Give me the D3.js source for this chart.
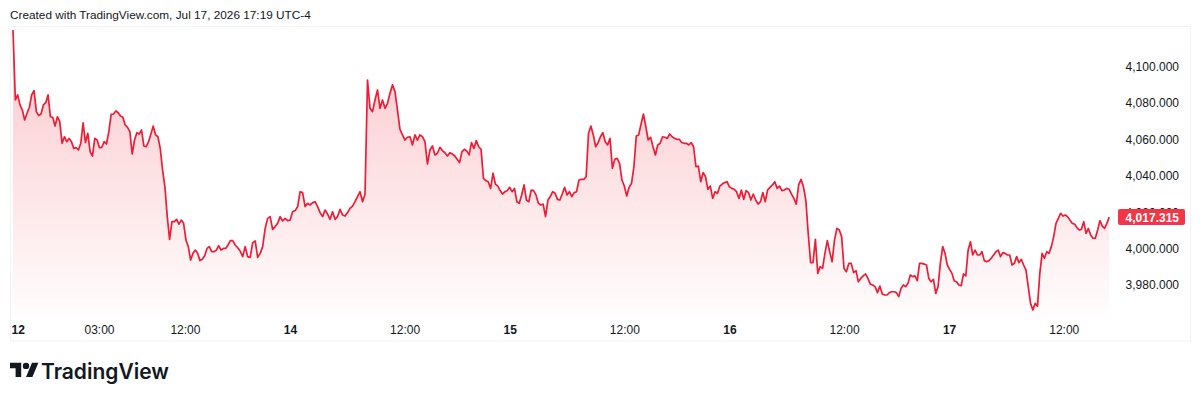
<!DOCTYPE html>
<head>
<meta charset="utf-8">
<script src="https://d3js.org/d3.v7.min.js"></script>
<style>
body { margin: 0; background: #fff; }
text { font-family: "Liberation Sans", Arial, sans-serif; fill: #131722; }
</style>
</head>
<body>
<script>
// 15-min closes, one array per trading session (18:00 -> 17:00 ET, 23h)
var session1 = [4120.2, 4081.7, 4084.5, 4079.0, 4076.2, 4070.7, 4074.4, 4077.7, 4084.5, 4086.8,
  4075.3, 4073.1, 4074.0, 4079.0, 4080.2, 4084.5, 4072.5, 4072.2, 4067.4, 4072.5,
  4069.8, 4057.9, 4061.5, 4058.8, 4060.6, 4058.8, 4055.1, 4055.5, 4054.2, 4057.9,
  4069.2, 4058.3, 4063.4, 4053.3, 4050.9, 4060.6, 4059.7, 4055.5, 4055.7, 4058.8,
  4057.5, 4064.3, 4073.8, 4074.0, 4075.7, 4074.7, 4072.9, 4072.2, 4068.0, 4066.7,
  4064.3, 4052.0, 4059.7, 4063.7, 4063.0, 4065.2, 4056.4, 4056.0, 4058.8, 4063.0,
  4067.4, 4062.5, 4061.5, 4055.1, 4043.2, 4034.0, 4017.6, 4005.1, 4014.8, 4014.8,
  4016.1, 4013.5, 4015.7, 4013.9, 4004.7, 4001.1, 3993.7, 3997.4, 3999.2, 3997.4,
  3993.4, 3994.1, 3996.1, 4000.1, 4001.1, 3998.3, 3998.3, 3999.2, 4001.6, 3999.2,
  4000.1, 4000.1, 4002.0, 4004.4];
var session2 = [4004.4, 4002.0, 4000.5, 3998.7, 3995.6, 4001.1, 3995.6, 3995.2, 4003.3, 4004.2,
  3995.2, 3997.4, 4001.1, 4011.1, 4016.6, 4017.6, 4010.6, 4012.1, 4013.9, 4017.6,
  4015.2, 4016.6, 4015.4, 4015.7, 4020.3, 4020.9, 4023.0,
  4031.3, 4030.8, 4023.1, 4024.9, 4024.0, 4025.3, 4025.8, 4023.1, 4019.8, 4017.6,
  4021.2, 4019.0, 4016.1, 4020.3, 4016.1, 4017.6, 4021.6, 4018.5, 4017.9, 4019.8,
  4022.1, 4023.4, 4025.8, 4028.6, 4031.3, 4025.8, 4030.0, 4092.7, 4077.1, 4075.3,
  4081.7, 4087.2, 4077.1, 4081.7, 4077.1, 4079.9, 4085.4, 4090.0, 4086.3, 4076.2,
  4065.6, 4062.5, 4059.7, 4061.2, 4061.5, 4057.0, 4062.5, 4059.7, 4062.5, 4061.5,
  4058.8, 4046.5, 4054.2, 4056.4, 4051.5, 4052.4, 4055.7, 4053.9, 4052.7, 4050.9,
  4052.7];
var session3 = [4052.0, 4050.9, 4049.1, 4047.3, 4053.3, 4054.6, 4053.7, 4051.5, 4058.3, 4055.1,
  4059.4, 4056.0, 4054.6, 4038.6, 4037.4, 4036.8, 4033.1, 4041.4, 4035.5, 4034.4,
  4031.9, 4030.0, 4031.3, 4031.9, 4033.7, 4031.3, 4033.1, 4025.8, 4024.9, 4029.5,
  4035.0, 4026.7, 4025.8, 4032.2, 4031.9, 4029.5, 4024.9, 4024.0, 4024.5, 4017.6,
  4026.7, 4028.6, 4031.3, 4030.4, 4027.1, 4026.7, 4030.0, 4033.7, 4029.5, 4031.3,
  4028.6, 4030.8, 4031.3, 4037.7, 4038.1, 4038.1, 4039.5, 4063.4, 4067.4, 4062.5,
  4056.0, 4058.3,
  4061.5, 4063.7, 4058.8, 4057.0, 4060.6, 4044.1, 4049.1, 4049.6, 4046.9,
  4037.7, 4034.4, 4028.9, 4033.7, 4035.9, 4045.0, 4061.9, 4062.5, 4068.5, 4074.0,
  4067.0, 4059.7, 4061.2, 4056.0, 4051.5, 4057.0, 4057.9, 4061.5, 4061.2, 4060.6, 4063.0];
var session4 = [4061.5, 4060.6, 4060.1, 4060.1, 4058.3, 4057.9, 4057.9, 4057.0, 4058.3, 4056.0,
  4045.0, 4045.4, 4036.8, 4041.8, 4039.5, 4032.6, 4034.4, 4027.6, 4031.3, 4030.4,
  4034.4, 4035.5, 4036.3, 4036.8, 4034.0, 4033.1, 4032.6, 4031.3, 4027.6, 4032.2,
  4027.1, 4031.9, 4030.8, 4026.7, 4030.0, 4026.7, 4024.5, 4025.8, 4030.8, 4025.8,
  4032.2, 4033.7, 4035.0, 4036.8, 4033.1, 4034.4, 4031.9, 4032.2, 4033.1, 4032.6,
  4030.0, 4027.6, 4024.5, 4035.0, 4038.1, 4034.0, 4026.7, 4008.4, 3992.3, 3992.3,
  4005.1, 3986.4, 3990.1, 3989.1, 3997.4, 4004.4, 3998.3, 3992.8, 4004.7, 4011.1,
  4010.2, 4006.6, 3989.1, 3987.3, 3991.9, 3991.9, 3986.8, 3987.9, 3981.8, 3983.6,
  3985.0, 3986.1, 3983.6, 3980.5, 3980.0, 3979.1, 3975.8, 3979.4, 3975.0, 3974.5,
  3974.5, 3975.8];
var session5 = [3976.3, 3976.3, 3975.8, 3973.6, 3978.2, 3980.0, 3979.1, 3980.9, 3985.5, 3984.6,
  3985.0, 3982.4, 3991.9, 3991.9, 3991.5, 3991.0, 3983.6, 3981.8, 3983.1, 3975.4,
  3979.1, 3991.9, 4001.1, 3997.4, 3991.0, 3988.6, 3986.4, 3982.2, 3981.8, 3980.0,
  3979.6, 3986.1, 3985.0, 3999.2, 4003.8, 3996.5, 3999.2, 3996.5, 3996.5, 3998.3,
  3993.4, 3992.8, 3993.4, 3994.7, 3996.5, 3998.3, 3999.2, 3995.6, 3997.8, 3997.4,
  3996.5, 3996.5, 3991.0, 3991.9, 3995.6, 3992.3, 3994.1, 3991.0, 3988.3, 3979.1,
  3969.9, 3966.3, 3969.9, 3968.4, 3986.4, 3997.4, 3994.7, 3998.3, 3997.4, 4001.1,
  4006.6, 4013.9, 4016.6, 4019.4, 4017.9, 4018.5, 4017.6, 4015.7, 4013.9, 4013.5,
  4011.7, 4010.2, 4010.6, 4014.8, 4008.4, 4011.1, 4007.5, 4005.7, 4005.7, 4010.2,
  4015.4, 4012.4, 4011.1, 4013.9, 4017.3];
var sessions = [session1, session2, session3, session4, session5];
var sessionHours = 23;

// time axis, in trading hours since Sun 18:00
var xTickHours = [0.5, 9, 18, 29, 41, 52, 64, 75, 87, 98, 110];
var xTickLabels = ["12", "03:00", "12:00", "14", "12:00", "15", "12:00", "16", "12:00", "17", "12:00"];
var yTicks = [3980, 4000, 4020, 4040, 4060, 4080, 4100];
var lastPrice = 4017.315;

var width = 1200, height = 401;
var svg = d3.select("body").append("svg")
  .attr("width", width)
  .attr("height", height);

var x = d3.scaleLinear().domain([0, 115]).range([13, 1111.5]);
var y = d3.scaleLinear().domain([3980, 4100]).range([285, 66.7]);

var points = [];
sessions.forEach(function(s, k) {
  s.forEach(function(v, i) {
    points.push({h: k * sessionHours + i * sessionHours / s.length, v: v});
  });
});

// gradient under the line
var grad = svg.append("defs").append("linearGradient")
  .attr("id", "fill").attr("gradientUnits", "userSpaceOnUse")
  .attr("x1", 0).attr("y1", 30).attr("x2", 0).attr("y2", 318);
grad.append("stop").attr("offset", 0).attr("stop-color", "#F23645").attr("stop-opacity", 0.28);
grad.append("stop").attr("offset", 1).attr("stop-color", "#F23645").attr("stop-opacity", 0.01);

// pane frame
svg.append("rect")
  .attr("x", 10.5).attr("y", 26.5).attr("width", 1180).attr("height", 314.5)
  .attr("fill", "none").attr("stroke", "#F0F3FA");

svg.append("path").datum(points)
  .attr("fill", "url(#fill)")
  .attr("d", d3.area().x(function(d) { return x(d.h); }).y0(318).y1(function(d) { return y(d.v); }));

svg.append("path").datum(points)
  .attr("fill", "none")
  .attr("stroke", "#EE1D36")
  .attr("stroke-width", 1.7)
  .attr("stroke-linejoin", "round")
  .attr("d", d3.line().x(function(d) { return x(d.h); }).y(function(d) { return y(d.v); }));

// price scale
var yAxis = svg.append("g")
  .attr("transform", "translate(1179,0)")
  .call(d3.axisRight(y).tickValues(yTicks).tickSize(0).tickPadding(0).tickFormat(d3.format(",.3f")));
yAxis.select(".domain").remove();
yAxis.selectAll("text").attr("text-anchor", "end").style("font-size", "12px")
  .style("font-family", "'Liberation Sans', Arial, sans-serif").attr("fill", "#131722");

// time scale
var xAxis = svg.append("g")
  .attr("transform", "translate(0,319)")
  .call(d3.axisBottom(x).tickValues(xTickHours).tickSize(0).tickPadding(6)
    .tickFormat(function(d, i) { return xTickLabels[i]; }));
xAxis.select(".domain").remove();
xAxis.selectAll("text").style("font-size", "12px")
  .style("font-family", "'Liberation Sans', Arial, sans-serif").attr("fill", "#131722")
  .style("font-weight", function(d, i) { return xTickLabels[i].indexOf(":") < 0 ? "bold" : "normal"; });

// last price label
var py = y(lastPrice);
svg.append("rect")
  .attr("x", 1118).attr("y", py - 8).attr("width", 67).attr("height", 16).attr("rx", 2)
  .attr("fill", "#F23645");
svg.append("text")
  .attr("x", 1179).attr("y", py + 4.5)
  .attr("text-anchor", "end")
  .style("font-size", "12px").style("font-weight", "bold")
  .style("fill", "#fff")
  .text(d3.format(",.3f")(lastPrice));

// header
svg.append("text")
  .attr("x", 10).attr("y", 19)
  .style("font-size", "11.8px")
  .text("Created with TradingView.com, Jul 17, 2026 17:19 UTC-4");

// logo
var logo = svg.append("g").attr("transform", "translate(10,359.5) scale(0.8)");
logo.append("path").attr("d", "M14 22H7V11H0V4h14v18zM28 22h-8l7.5-18h8L28 22z").attr("fill", "#131722");
logo.append("circle").attr("cx", 20).attr("cy", 8).attr("r", 4).attr("fill", "#131722");
svg.append("text")
  .attr("x", 41).attr("y", 378.5)
  .style("font-family", "Inter, sans-serif")
  .style("font-size", "21px").style("font-weight", 600)
  .text("TradingView");
</script>
</body>
